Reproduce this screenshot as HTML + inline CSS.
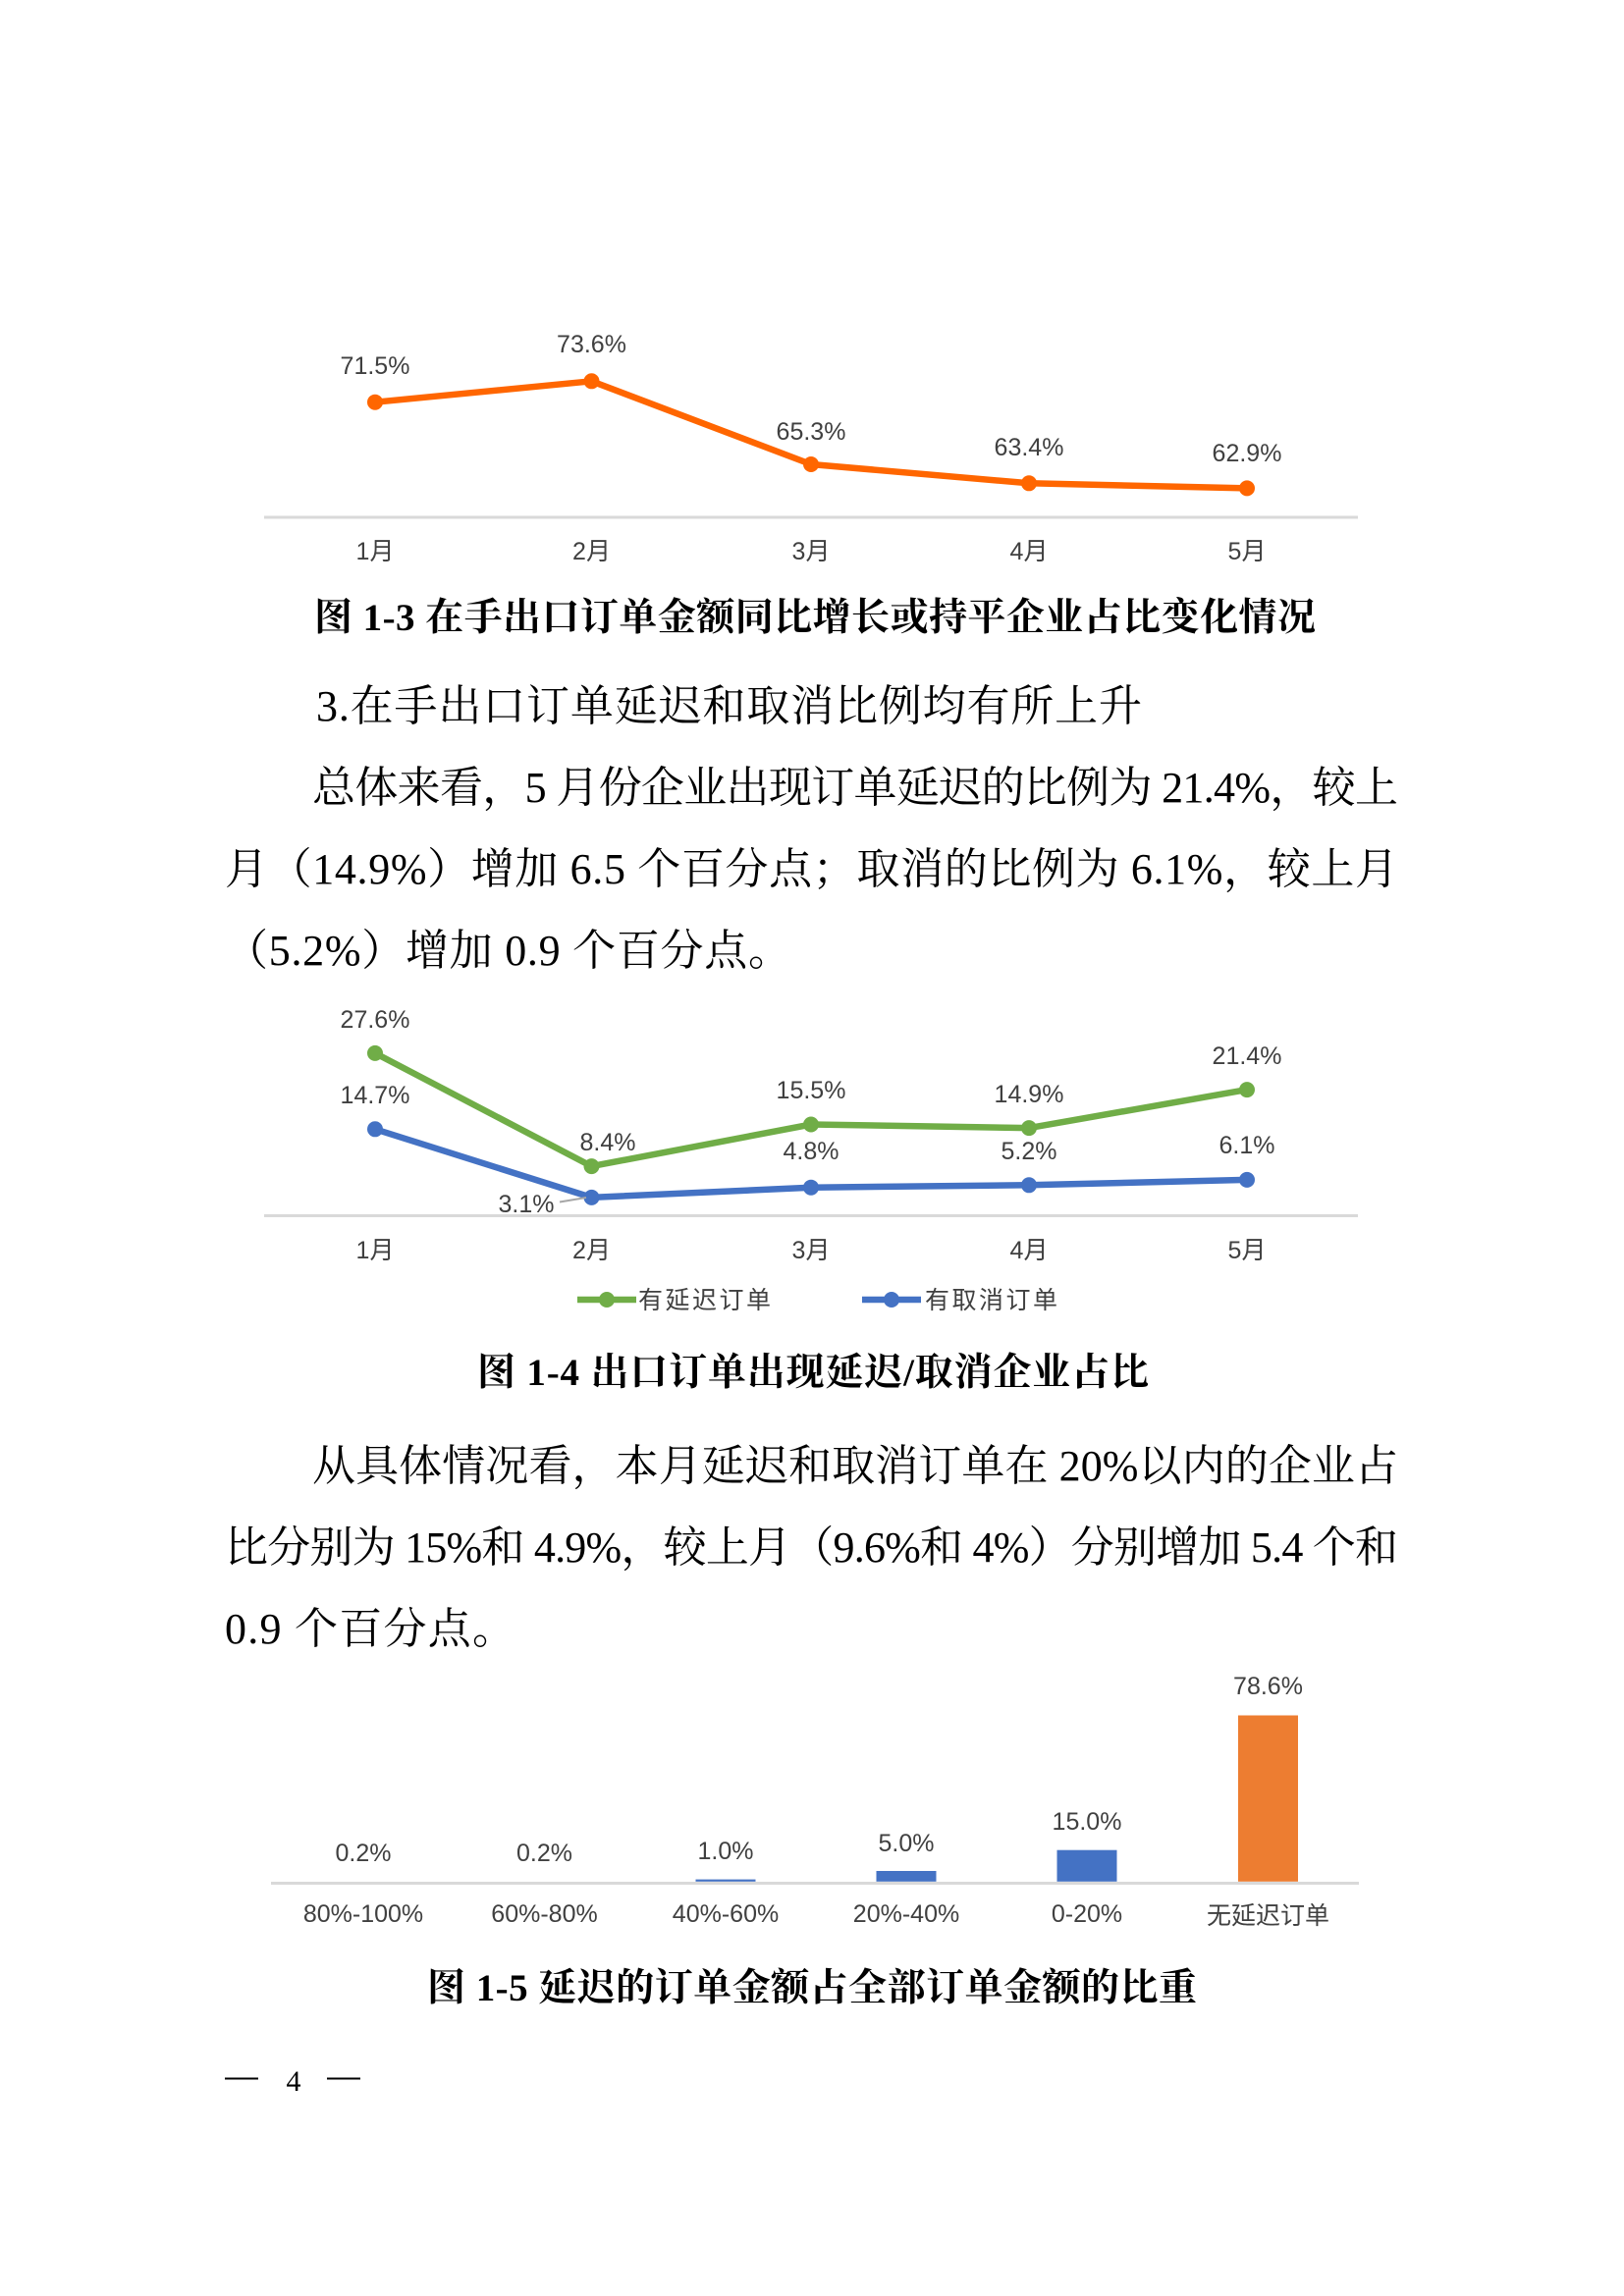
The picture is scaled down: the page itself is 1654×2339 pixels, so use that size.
<!DOCTYPE html>
<html>
<head>
<meta charset="utf-8">
<style>
  html,body{margin:0;padding:0;background:#fff;}
  svg{display:block;}
  .cl{font-family:"Liberation Sans","Noto Sans CJK SC",sans-serif;font-size:25px;fill:#404040;text-anchor:middle;}
  .body{font-family:"Liberation Serif","Noto Serif CJK SC",serif;font-size:44px;fill:#000;}
  .cap{font-family:"Liberation Serif","Noto Serif CJK SC",serif;font-size:39px;font-weight:bold;fill:#000;}
</style>
</head>
<body>
<svg width="1654" height="2339" viewBox="0 0 1654 2339" xmlns="http://www.w3.org/2000/svg">
  <rect width="1654" height="2339" fill="#fff"/>

  <!-- Chart 1-3 -->
  <line x1="269" y1="527" x2="1383" y2="527" stroke="#d9d9d9" stroke-width="3"/>
  <polyline points="382,409.7 602.5,388.3 826,473 1048,492.3 1270,497.4" fill="none" stroke="#FF6600" stroke-width="6.5" stroke-linejoin="round"/>
  <g fill="#FF6600">
    <circle cx="382" cy="409.7" r="8"/>
    <circle cx="602.5" cy="388.3" r="8"/>
    <circle cx="826" cy="473" r="8"/>
    <circle cx="1048" cy="492.3" r="8"/>
    <circle cx="1270" cy="497.4" r="8"/>
  </g>
  <text class="cl" x="382" y="381">71.5%</text>
  <text class="cl" x="602.5" y="359">73.6%</text>
  <text class="cl" x="826" y="448">65.3%</text>
  <text class="cl" x="1048" y="464">63.4%</text>
  <text class="cl" x="1270" y="470">62.9%</text>
  <text class="cl" x="382" y="570">1月</text>
  <text class="cl" x="602.5" y="570">2月</text>
  <text class="cl" x="826" y="570">3月</text>
  <text class="cl" x="1048" y="570">4月</text>
  <text class="cl" x="1270" y="570">5月</text>

  <text class="cap" x="320" y="642" textLength="1020" lengthAdjust="spacing">图 1-3 在手出口订单金额同比增长或持平企业占比变化情况</text>

  <!-- Heading & paragraph 1 -->
  <text class="body" x="322" y="734" textLength="841" lengthAdjust="spacing">3.在手出口订单延迟和取消比例均有所上升</text>
  <text class="body" x="318" y="817" textLength="1106" lengthAdjust="spacing">总体来看，5 月份企业出现订单延迟的比例为 21.4%，较上</text>
  <text class="body" x="229" y="900" textLength="1195" lengthAdjust="spacing">月（14.9%）增加 6.5 个百分点；取消的比例为 6.1%，较上月</text>
  <text class="body" x="229" y="983" textLength="577" lengthAdjust="spacing">（5.2%）增加 0.9 个百分点。</text>

  <!-- Chart 1-4 -->
  <line x1="269" y1="1238.5" x2="1383" y2="1238.5" stroke="#d9d9d9" stroke-width="3"/>
  <polyline points="382,1072.9 602.5,1188.1 826,1145.5 1048,1149.1 1270,1110.1" fill="none" stroke="#70AD47" stroke-width="6.5" stroke-linejoin="round"/>
  <g fill="#70AD47">
    <circle cx="382" cy="1072.9" r="8"/>
    <circle cx="602.5" cy="1188.1" r="8"/>
    <circle cx="826" cy="1145.5" r="8"/>
    <circle cx="1048" cy="1149.1" r="8"/>
    <circle cx="1270" cy="1110.1" r="8"/>
  </g>
  <polyline points="382,1150.3 602.5,1219.9 826,1209.7 1048,1207.3 1270,1201.9" fill="none" stroke="#4472C4" stroke-width="6.5" stroke-linejoin="round"/>
  <g fill="#4472C4">
    <circle cx="382" cy="1150.3" r="8"/>
    <circle cx="602.5" cy="1219.9" r="8"/>
    <circle cx="826" cy="1209.7" r="8"/>
    <circle cx="1048" cy="1207.3" r="8"/>
    <circle cx="1270" cy="1201.9" r="8"/>
  </g>
  <line x1="570" y1="1224.5" x2="597" y2="1220" stroke="#a6a6a6" stroke-width="2"/>
  <text class="cl" x="382" y="1047">27.6%</text>
  <text class="cl" x="382" y="1124">14.7%</text>
  <text class="cl" x="619" y="1172">8.4%</text>
  <text class="cl" x="826" y="1119">15.5%</text>
  <text class="cl" x="1048" y="1123">14.9%</text>
  <text class="cl" x="1270" y="1084">21.4%</text>
  <text class="cl" x="826" y="1181">4.8%</text>
  <text class="cl" x="1048" y="1181">5.2%</text>
  <text class="cl" x="1270" y="1175">6.1%</text>
  <text class="cl" x="536" y="1235">3.1%</text>
  <text class="cl" x="382" y="1282">1月</text>
  <text class="cl" x="602.5" y="1282">2月</text>
  <text class="cl" x="826" y="1282">3月</text>
  <text class="cl" x="1048" y="1282">4月</text>
  <text class="cl" x="1270" y="1282">5月</text>
  <!-- legend -->
  <line x1="588" y1="1324" x2="648" y2="1324" stroke="#70AD47" stroke-width="6.5"/>
  <circle cx="618" cy="1324" r="8" fill="#70AD47"/>
  <text class="cl" x="650" y="1333" style="text-anchor:start" textLength="135" lengthAdjust="spacing">有延迟订单</text>
  <line x1="878" y1="1324" x2="938" y2="1324" stroke="#4472C4" stroke-width="6.5"/>
  <circle cx="908" cy="1324" r="8" fill="#4472C4"/>
  <text class="cl" x="942" y="1333" style="text-anchor:start" textLength="135" lengthAdjust="spacing">有取消订单</text>

  <text class="cap" x="486" y="1411" textLength="684" lengthAdjust="spacing">图 1-4 出口订单出现延迟/取消企业占比</text>

  <!-- Paragraph 2 -->
  <text class="body" x="318" y="1508" textLength="1106" lengthAdjust="spacing">从具体情况看，本月延迟和取消订单在 20%以内的企业占</text>
  <text class="body" x="229" y="1591" textLength="1195" lengthAdjust="spacing">比分别为 15%和 4.9%，较上月（9.6%和 4%）分别增加 5.4 个和</text>
  <text class="body" x="229" y="1674" textLength="296" lengthAdjust="spacing">0.9 个百分点。</text>

  <!-- Chart 1-5 -->
  <rect x="708.5" y="1914.6" width="61" height="2.2" fill="#4472C4"/>
  <rect x="892.5" y="1906" width="61" height="10.8" fill="#4472C4"/>
  <rect x="1076.5" y="1884.7" width="61" height="32.1" fill="#4472C4"/>
  <rect x="1261" y="1747.5" width="61" height="169.3" fill="#ED7D31"/>
  <line x1="276" y1="1918.5" x2="1384" y2="1918.5" stroke="#d9d9d9" stroke-width="3"/>
  <text class="cl" x="370" y="1896">0.2%</text>
  <text class="cl" x="554.5" y="1896">0.2%</text>
  <text class="cl" x="739" y="1894">1.0%</text>
  <text class="cl" x="923" y="1886">5.0%</text>
  <text class="cl" x="1107" y="1864">15.0%</text>
  <text class="cl" x="1291.5" y="1726">78.6%</text>
  <text class="cl" x="370" y="1958">80%-100%</text>
  <text class="cl" x="554.5" y="1958">60%-80%</text>
  <text class="cl" x="739" y="1958">40%-60%</text>
  <text class="cl" x="923" y="1958">20%-40%</text>
  <text class="cl" x="1107" y="1958">0-20%</text>
  <text class="cl" x="1291.5" y="1960">无延迟订单</text>

  <text class="cap" x="435" y="2038" textLength="784" lengthAdjust="spacing">图 1-5 延迟的订单金额占全部订单金额的比重</text>

  <!-- page number -->
  <rect x="229" y="2116.5" width="34" height="2" fill="#000"/>
  <text x="299" y="2130" style="font-family:'Liberation Serif',serif;font-size:30px;fill:#000;text-anchor:middle">4</text>
  <rect x="333" y="2116.5" width="34" height="2" fill="#000"/>
</svg>
</body>
</html>
